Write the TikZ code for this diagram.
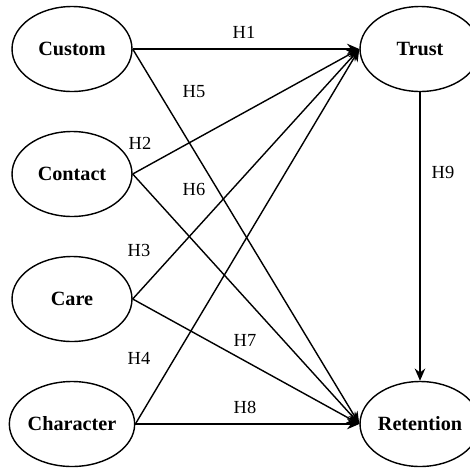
\documentclass[tikz,border=0pt]{standalone}
\usepackage{fontspec}
\setmainfont{Liberation Serif}
\usetikzlibrary{arrows.meta,shapes.geometric}

\tikzset{
  construct/.style={draw,ellipse,inner sep=0pt,line width=0.8pt,minimum width=2.4cm,minimum height=1.7cm,
    font=\fontsize{11.5}{13}\selectfont\bfseries},
  hyp/.style={font=\fontsize{10.5}{12}\selectfont},
  link/.style={-{Stealth[length=7pt,width=6pt]},line width=0.8pt}
}

\begin{document}
\begin{tikzpicture}[x=0.02cm,y=-0.02cm]
    \useasboundingbox (0,0) rectangle (470,467);
    \node[construct] (custom) at (72,49) {Custom};
    \node[construct] (contact) at (72,174) {Contact};
    \node[construct] (care) at (72,299) {Care};
    \node[construct] (character) at (72,424) {Character};
    \node[construct] (trust) at (420,49) {Trust};
    \node[construct] (retention) at (420,424) {Retention};

    \draw[link] (custom.east) -- (trust.west);
    \draw[link] (contact.east) -- (trust.west);
    \draw[link] (care.east) -- (trust.west);
    \draw[link] (character.east) -- (trust.west);
    \draw[link] (custom.east) -- (retention.west);
    \draw[link] (contact.east) -- (retention.west);
    \draw[link] (care.east) -- (retention.west);
    \draw[link] (character.east) -- (retention.west);
    \draw[link] (trust.south) -- (retention.north);

    \node[hyp] (h1) at (244,32) {H1};
    \node[hyp] (h2) at (140,143) {H2};
    \node[hyp] (h3) at (139,250) {H3};
    \node[hyp] (h4) at (139,358) {H4};
    \node[hyp] (h5) at (194,92) {H5};
    \node[hyp] (h6) at (194,189) {H6};
    \node[hyp] (h7) at (245,340) {H7};
    \node[hyp] (h8) at (245,407) {H8};
    \node[hyp] (h9) at (443,172) {H9};
\end{tikzpicture}
\end{document}
